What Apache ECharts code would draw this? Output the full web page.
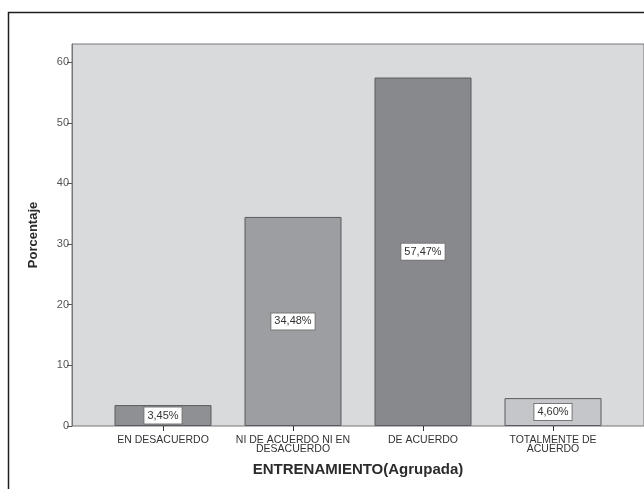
<!DOCTYPE html>
<html>
<head>
<meta charset="utf-8">
<script src="https://cdn.jsdelivr.net/npm/echarts@6/dist/echarts.min.js"></script>
<style>
html, body { margin: 0; padding: 0; background: #fff; }
#app { width: 644px; height: 489px; }
</style>
</head>
<body>
<div id="app"></div>
<script>
var categories = ['EN DESACUERDO', 'NI DE ACUERDO NI EN\nDESACUERDO', 'DE ACUERDO', 'TOTALMENTE DE\nACUERDO'];
var percentages = [3.45, 34.48, 57.47, 4.60];
var barColors = ['#8f9094', '#9d9ea2', '#88898d', '#c5c6c9'];
var yTicks = [0, 10, 20, 30, 40, 50, 60];

window.onload = function() {
    var myChart = echarts.init(document.getElementById('app'));
    var barData = [];
    for (var i = 0; i < percentages.length; i++) {
        barData.push({ value: percentages[i], itemStyle: { color: barColors[i] } });
    }
    var option = {
        animation: false,
        textStyle: { fontFamily: 'Liberation Sans, Arial, sans-serif' },
        graphic: [{
            type: 'rect',
            shape: { x: 8.5, y: 12.5, width: 700, height: 600 },
            style: { fill: 'none', stroke: '#1e1e1e', lineWidth: 1.5 },
            silent: true
        }],
        grid: [{
            show: true,
            left: 72, right: 0, top: 44, bottom: 63,
            backgroundColor: '#d9dadc',
            borderColor: '#76777b',
            borderWidth: 1
        }, {
            left: 98, right: 26, top: 44, bottom: 63
        }],
        xAxis: [{
            gridIndex: 0, type: 'value', show: false
        }, {
            gridIndex: 1,
            type: 'category',
            data: categories,
            axisLine: { show: false },
            axisTick: { show: true, alignWithLabel: true, length: 5, lineStyle: { color: '#333' } },
            axisLabel: { interval: 0, fontSize: 10.5, lineHeight: 9, color: '#333', margin: 10 },
            name: 'ENTRENAMIENTO(Agrupada)',
            nameLocation: 'middle',
            nameGap: 36,
            nameTextStyle: { fontSize: 15, fontWeight: 'bold', color: '#2b2b2b' }
        }],
        yAxis: [{
            gridIndex: 0, type: 'value', show: false
        }, {
            gridIndex: 1,
            type: 'value',
            min: 0,
            max: 63,
            offset: 26,
            axisLine: { show: true, lineStyle: { color: '#76777b' } },
            axisTick: { show: true, length: 5, customValues: yTicks, lineStyle: { color: '#555' } },
            axisLabel: { customValues: yTicks, fontSize: 11, color: '#555', margin: 3 },
            splitLine: { show: false },
            name: 'Porcentaje',
            nameLocation: 'middle',
            nameGap: 32,
            nameTextStyle: { fontSize: 13, fontWeight: 'bold', color: '#2b2b2b' }
        }],
        series: [{
            type: 'bar',
            xAxisIndex: 1,
            yAxisIndex: 1,
            barWidth: 97,
            data: barData,
            itemStyle: { borderColor: '#5b5b5f', borderWidth: 1 },
            label: {
                show: true,
                position: 'inside',
                formatter: function(p) {
                    return p.value.toFixed(2).replace('.', ',') + '%';
                },
                fontSize: 11,
                color: '#333',
                backgroundColor: '#fff',
                borderColor: '#777',
                borderWidth: 1,
                padding: [3, 3, 2, 3]
            }
        }]
    };
    myChart.setOption(option);
};
</script>
</body>
</html>
